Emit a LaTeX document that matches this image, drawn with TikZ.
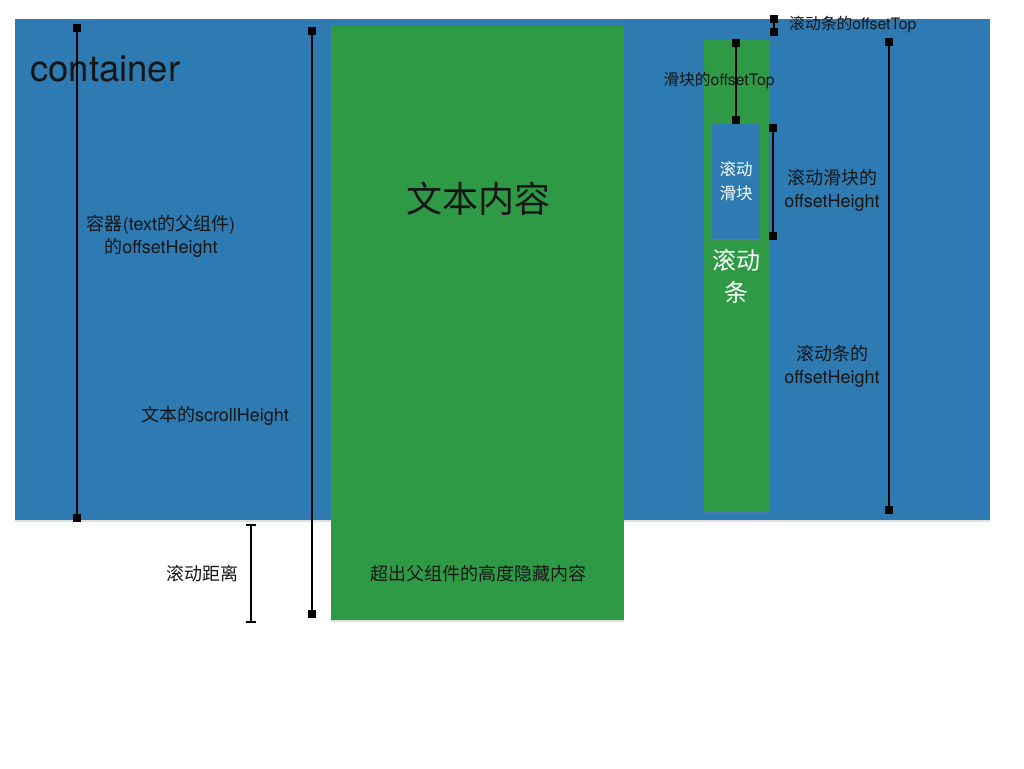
\documentclass[tikz,border=0pt]{standalone}
\usepackage{fontspec}
\setmainfont{TeX Gyre Heros}
\newfontfamily\zh{Noto Sans CJK SC}
\usetikzlibrary{shadows}
\definecolor{cblue}{HTML}{2E7BB3}
\definecolor{cgreen}{HTML}{2E9A45}
\definecolor{ink}{HTML}{151515}
\tikzset{
  panel/.style={draw=none, drop shadow={opacity=0.25, shadow xshift=0pt, shadow yshift=-2pt}},
  mk/.style={fill=black, draw=none, minimum size=8pt, inner sep=0pt, rectangle},
  dim/.style={draw=black, line width=2pt},
  lbl/.style={text=ink, font=\fontsize{18}{23}\selectfont, align=center, inner sep=0pt},
  small/.style={text=ink, font=\fontsize{15.8}{19}\selectfont, inner sep=0pt},
}
\begin{document}
\begin{tikzpicture}[x=1pt, y=-1pt]
\useasboundingbox (0,0) rectangle (1024,768);
\fill[white] (0,0) rectangle (1024,768);
% panels
\path[panel, fill=cblue] (15,19) rectangle (990,520);
\path[panel, fill=cgreen] (331,25) rectangle (624,620);
\path[panel, fill=cgreen] (704,40) rectangle (769,512);
\path[panel, fill=cblue] (712,124) rectangle (760,239);
% texts
\node[text=ink, font=\fontsize{36.5}{40}\selectfont, anchor=west, inner sep=0pt] (tcont) at (30,69) {container};
\node[text=ink, font=\fontsize{36}{40}\selectfont\zh, inner sep=0pt] (tbody) at (478,199) {文本内容};
\node[lbl] (thide) at (478,574) {\zh 超出父组件的高度隐藏内容};
\node[lbl] (tcontH) at (161,236) {{\zh 容器}(text{\zh 的父组件})\\{\zh 的}offsetHeight};
\node[lbl] (tscroll) at (215,416) {{\zh 文本的}scrollHeight};
\node[lbl] (tdist) at (202,574) {\zh 滚动距离};
\node[lbl, text=white, font=\fontsize{16.5}{24}\selectfont\zh] (tthumb) at (736,181) {滚动\\滑块};
\node[lbl, text=white, font=\fontsize{24}{32}\selectfont\zh] (tbar) at (736,276) {滚动\\条};
\node[small] (tthumbTop) at (719,81) {{\zh 滑块的}offsetTop};
\node[small, anchor=west] (tbarTop) at (789,25) {{\zh 滚动条的}offsetTop};
\node[lbl] (tthumbH) at (832,190) {{\zh 滚动滑块的}\\offsetHeight};
\node[lbl] (tbarH) at (832,366) {{\zh 滚动条的}\\offsetHeight};
% dimension lines with square ends
\node[mk] (a1) at (77,28) {}; \node[mk] (a2) at (77,518) {};
\draw[dim] (a1) -- (a2);
\node[mk] (b1) at (312,31) {}; \node[mk] (b2) at (312,614) {};
\draw[dim] (b1) -- (b2);
\node[mk] (c1) at (736,43) {}; \node[mk] (c2) at (736,120) {};
\draw[dim] (c1) -- (c2);
\node[mk] (d1) at (774,19) {}; \node[mk] (d2) at (774,32) {};
\draw[dim] (d1) -- (d2);
\node[mk] (e1) at (773,128) {}; \node[mk] (e2) at (773,236) {};
\draw[dim] (e1) -- (e2);
\node[mk] (f1) at (889,42) {}; \node[mk] (f2) at (889,510) {};
\draw[dim] (f1) -- (f2);
% scroll distance I-bar
\coordinate (g1) at (251,525); \coordinate (g2) at (251,622);
\draw[dim] (g1) -- (g2);
\draw[dim] ([xshift=-5pt]g1) -- ([xshift=5pt]g1);
\draw[dim] ([xshift=-5pt]g2) -- ([xshift=5pt]g2);
\end{tikzpicture}
\end{document}
